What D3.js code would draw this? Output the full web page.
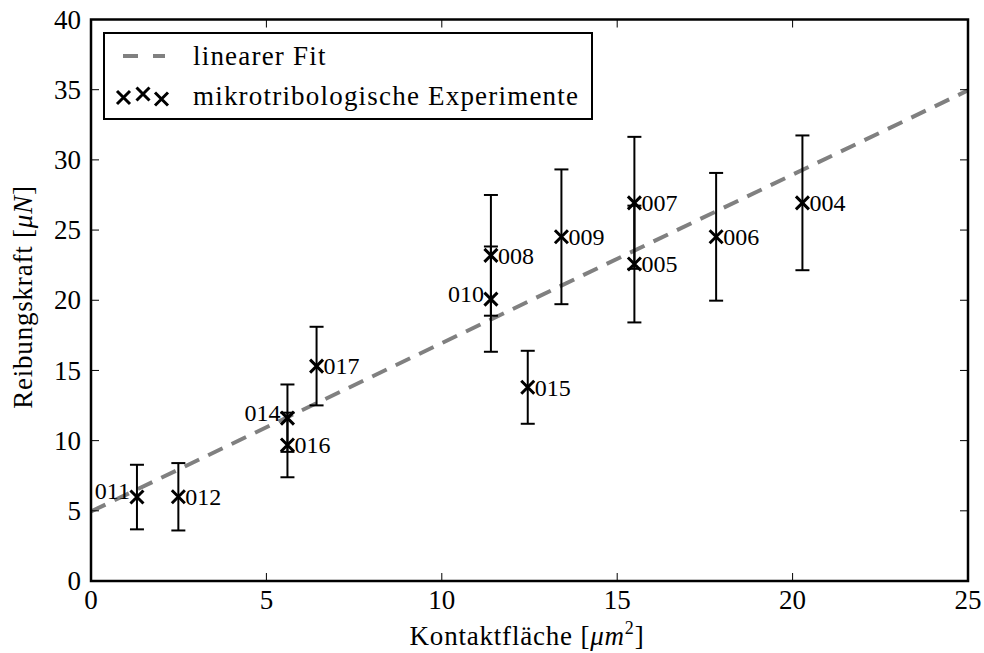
<!DOCTYPE html>
<html>
<head>
<meta charset="utf-8">
<script src="https://cdn.jsdelivr.net/npm/d3@7"></script>
<style>
  html, body { margin: 0; padding: 0; background: #fff; }
  svg text { font-family: "Liberation Serif", "DejaVu Serif", serif; fill: #000; }
</style>
</head>
<body>
<svg id="chart" width="984" height="653" font-family="Liberation Serif, DejaVu Serif, serif"></svg>
<script>
// Messpunkte: Kontaktfläche (µm²), Reibungskraft (µN), Fehler (µN)
const labels = ["011", "012", "014", "016", "017", "010", "008", "015", "009", "007", "005", "006", "004"];
const area   = [1.31, 2.49, 5.60, 5.60, 6.43, 11.40, 11.40, 12.45, 13.41, 15.49, 15.49, 17.82, 20.28];
const force  = [5.98, 6.00, 11.60, 9.69, 15.31, 20.08, 23.20, 13.80, 24.52, 26.94, 22.58, 24.52, 26.94];
const error  = [2.30, 2.40, 2.40, 2.30, 2.80, 3.75, 4.30, 2.60, 4.80, 4.70, 4.16, 4.55, 4.80];
const labelLeft = ["011", "014", "010"];

// Linearer Fit: F = m * A + b
const fitSlope = 1.2;
const fitIntercept = 4.95;

const xTicks = [0, 5, 10, 15, 20, 25];
const yTicks = [0, 5, 10, 15, 20, 25, 30, 35, 40];

const svg = d3.select("#chart");
const L = 91, R = 968, T = 19.5, B = 581;

const x = d3.scaleLinear().domain([0, 25]).range([L, R]);
const y = d3.scaleLinear().domain([0, 40]).range([B, T]);

const points = labels.map((l, i) => ({ label: l, a: area[i], f: force[i], e: error[i] }));

// Fit line (clipped to the axes)
svg.append("clipPath").attr("id", "plotclip")
  .append("rect").attr("x", L).attr("y", T).attr("width", R - L).attr("height", B - T);

const fitLine = d3.line().x(d => x(d)).y(d => y(fitSlope * d + fitIntercept));
svg.append("path")
  .attr("clip-path", "url(#plotclip)")
  .attr("d", fitLine([0, 25]))
  .attr("fill", "none")
  .attr("stroke", "#808080")
  .attr("stroke-width", 4)
  .attr("stroke-dasharray", "16 10");

// Error bars
const capHalf = 7;
const eb = svg.append("g").attr("stroke", "#000").attr("stroke-width", 2);
points.forEach(p => {
  eb.append("line").attr("x1", x(p.a)).attr("x2", x(p.a))
    .attr("y1", y(p.f - p.e)).attr("y2", y(p.f + p.e));
  [p.f - p.e, p.f + p.e].forEach(v => {
    eb.append("line").attr("x1", x(p.a) - capHalf).attr("x2", x(p.a) + capHalf)
      .attr("y1", y(v)).attr("y2", y(v));
  });
});

// Cross markers
function cross(g, cx, cy, h = 6.5) {
  g.append("path")
    .attr("d", `M${cx - h},${cy - h}L${cx + h},${cy + h}M${cx - h},${cy + h}L${cx + h},${cy - h}`)
    .attr("stroke", "#000").attr("stroke-width", 3).attr("fill", "none");
}
const markers = svg.append("g");
points.forEach(p => cross(markers, x(p.a), y(p.f)));

// Point labels
svg.append("g").selectAll("text").data(points).join("text")
  .attr("x", d => labelLeft.includes(d.label) ? x(d.a) - 7 : x(d.a) + 7)
  .attr("y", d => labelLeft.includes(d.label) ? y(d.f) - 6 : y(d.f))
  .attr("dy", "0.35em")
  .attr("text-anchor", d => labelLeft.includes(d.label) ? "end" : "start")
  .attr("font-size", 24)
  .text(d => d.label);

// Frame
svg.append("rect").attr("x", L).attr("y", T).attr("width", R - L).attr("height", B - T)
  .attr("fill", "none").attr("stroke", "#000").attr("stroke-width", 2.5);

// Ticks on all four sides, pointing inward
const tickLen = 8;
const tk = svg.append("g").attr("stroke", "#000").attr("stroke-width", 1);
xTicks.forEach(t => {
  tk.append("line").attr("x1", x(t)).attr("x2", x(t)).attr("y1", B).attr("y2", B - tickLen);
  tk.append("line").attr("x1", x(t)).attr("x2", x(t)).attr("y1", T).attr("y2", T + tickLen);
});
yTicks.forEach(t => {
  tk.append("line").attr("x1", L).attr("x2", L + tickLen).attr("y1", y(t)).attr("y2", y(t));
  tk.append("line").attr("x1", R).attr("x2", R - tickLen).attr("y1", y(t)).attr("y2", y(t));
});

// Tick labels
svg.append("g").selectAll("text").data(xTicks).join("text")
  .attr("x", d => x(d)).attr("y", B + 28)
  .attr("text-anchor", "middle").attr("font-size", 27)
  .text(d => d);
svg.append("g").selectAll("text").data(yTicks).join("text")
  .attr("x", L - 10).attr("y", d => y(d)).attr("dy", "0.34em")
  .attr("text-anchor", "end").attr("font-size", 27)
  .text(d => d);

// Axis titles
const xt = svg.append("text").attr("x", 527).attr("y", 645)
  .attr("text-anchor", "middle").attr("font-size", 27).attr("letter-spacing", 0.8);
xt.append("tspan").text("Kontaktfläche [");
xt.append("tspan").attr("font-style", "italic").text("μm");
xt.append("tspan").attr("font-size", 18).attr("dy", -11).text("2");
xt.append("tspan").attr("dy", 11).text("]");

const yt = svg.append("text")
  .attr("transform", "translate(32,297) rotate(-90)")
  .attr("text-anchor", "middle").attr("font-size", 27).attr("letter-spacing", 0.8);
yt.append("tspan").text("Reibungskraft [");
yt.append("tspan").attr("font-style", "italic").text("μN");
yt.append("tspan").text("]");

// Legend
const lg = svg.append("g");
lg.append("rect").attr("x", 104).attr("y", 33).attr("width", 488).attr("height", 86)
  .attr("fill", "#fff").attr("stroke", "#000").attr("stroke-width", 2);
lg.append("line").attr("x1", 123).attr("x2", 165).attr("y1", 56).attr("y2", 56)
  .attr("stroke", "#808080").attr("stroke-width", 4).attr("stroke-dasharray", "15 15");
lg.append("text").attr("x", 193).attr("y", 56).attr("dy", "0.35em").attr("font-size", 27)
  .attr("letter-spacing", 1.2).text("linearer Fit");
cross(lg, 123.5, 97.5);
cross(lg, 143, 94);
cross(lg, 161.5, 99);
lg.append("text").attr("x", 193).attr("y", 96).attr("dy", "0.35em").attr("font-size", 27)
  .attr("letter-spacing", 1.2).text("mikrotribologische Experimente");
</script>
</body>
</html>
